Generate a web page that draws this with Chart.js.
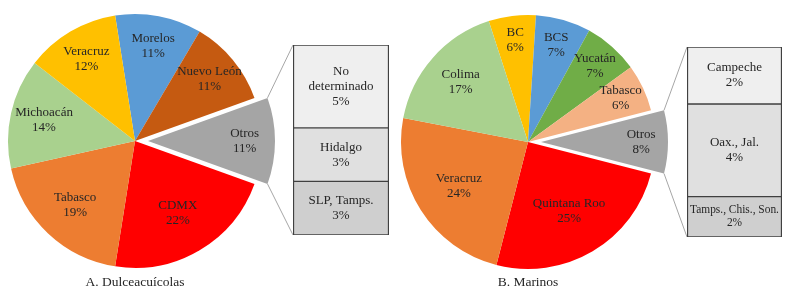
<!DOCTYPE html>
<html lang="es">
<head>
<meta charset="utf-8">
<script src="https://cdn.jsdelivr.net/npm/chart.js@4.4.1/dist/chart.umd.min.js"></script>
<style>
  html, body { margin: 0; padding: 0; background: #fff; }
  #lienzo { position: relative; width: 791px; height: 299px; overflow: hidden; }
  canvas { position: absolute; top: 0; }
</style>
</head>
<body>
<div id="lienzo">
  <canvas id="pieA" width="300" height="299" style="left:-15px"></canvas>
  <canvas id="barraA" width="145" height="299" style="left:255px"></canvas>
  <canvas id="pieB" width="300" height="299" style="left:378px"></canvas>
  <canvas id="barraB" width="141" height="299" style="left:650px"></canvas>
</div>
<script>
// A. Dulceacuícolas
const estadosA = ['Morelos', 'Nuevo León', 'Otros', 'CDMX', 'Tabasco', 'Michoacán', 'Veracruz'];
const valoresA = [11, 11, 11, 22, 19, 14, 12];
const otrosA = [['No', 'determinado'], ['Hidalgo'], ['SLP, Tamps.']];
const valoresOtrosA = [4.8, 3.1, 3.1];

// B. Marinos
const estadosB = ['BC', 'BCS', 'Yucatán', 'Tabasco', 'Otros', 'Quintana Roo', 'Veracruz', 'Colima'];
const valoresB = [6, 7, 7, 6, 8, 25, 24, 17];
const otrosB = [['Campeche'], ['Oax., Jal.'], ['Tamps., Chis., Son.']];
const valoresOtrosB = [2.4, 3.9, 1.7];

const coloresA = ['#5b9bd5', '#c55a11', '#a5a5a5', '#ff0000', '#ed7d31', '#a9d18e', '#ffc000'];
const coloresB = ['#ffc000', '#5b9bd5', '#70ad47', '#f4b183', '#a5a5a5', '#ff0000', '#ed7d31', '#a9d18e'];
const grises = ['#efefef', '#e0e0e0', '#cfcfcf'];

const RADIO = 127;
const SEPARACION = 13;
const FUENTE = '"Liberation Serif", "Times New Roman", serif';
const TEXTO = '#262626';

function suma(arr) {
  return arr.reduce((a, b) => a + b, 0);
}

// separa la porción "Otros" del centro
const separarOtros = {
  id: 'separarOtros',
  afterDatasetUpdate(chart, args) {
    const i = chart.data.labels.indexOf('Otros');
    const arco = args.meta.data[i];
    if (!arco) return;
    const medio = (arco.startAngle + arco.endAngle) / 2;
    arco.x += Math.cos(medio) * SEPARACION;
    arco.y += Math.sin(medio) * SEPARACION;
  }
};

const etiquetasPie = {
  id: 'etiquetasPie',
  afterDatasetsDraw(chart) {
    const ctx = chart.ctx;
    const datos = chart.data.datasets[0].data;
    const total = suma(datos);
    ctx.save();
    ctx.fillStyle = TEXTO;
    ctx.font = '13px ' + FUENTE;
    ctx.textAlign = 'center';
    ctx.textBaseline = 'middle';
    chart.getDatasetMeta(0).data.forEach(function(arco, i) {
      const frac = datos[i] / total;
      const medio = (arco.startAngle + arco.endAngle) / 2;
      // porciones grandes: etiqueta más cerca del centro
      const d = RADIO * (0.86 - 0.9 * frac);
      const x = arco.x + Math.cos(medio) * d;
      const y = arco.y + Math.sin(medio) * d;
      ctx.fillText(chart.data.labels[i], x, y - 7.5);
      ctx.fillText(datos[i] + '%', x, y + 7.5);
    });
    ctx.restore();
  }
};

const etiquetasBarra = {
  id: 'etiquetasBarra',
  afterDatasetsDraw(chart) {
    const ctx = chart.ctx;
    ctx.save();
    ctx.fillStyle = TEXTO;
    ctx.textAlign = 'center';
    ctx.textBaseline = 'middle';
    chart.data.datasets.forEach(function(ds, i) {
      const barra = chart.getDatasetMeta(i).data[0];
      const lineas = ds.lineas.concat([Math.round(ds.data[0]) + '%']);
      const ancho = barra.width - 6;
      let tam = 13;
      lineas.forEach(function(l) {
        ctx.font = tam + 'px ' + FUENTE;
        const w = ctx.measureText(l).width;
        if (w > ancho) tam = tam * ancho / w;
      });
      ctx.font = tam + 'px ' + FUENTE;
      const paso = tam * 1.15;
      const cy = (barra.y + barra.base) / 2;
      lineas.forEach(function(l, k) {
        ctx.fillText(l, barra.x, cy + (k - (lineas.length - 1) / 2) * paso);
      });
    });
    ctx.restore();
  }
};

function conectores(pie) {
  return {
    id: 'conectores',
    beforeDatasetsDraw(chart) {
      const ctx = chart.ctx;
      const i = pie.data.labels.indexOf('Otros');
      const arco = pie.getDatasetMeta(0).data[i];
      const rp = pie.canvas.getBoundingClientRect();
      const rb = chart.canvas.getBoundingClientRect();
      const dx = rp.left - rb.left;
      const dy = rp.top - rb.top;
      const escala = chart.scales.y;
      const primera = chart.getDatasetMeta(0).data[0];
      const izq = primera.x - primera.width / 2;
      const pares = [
        [arco.startAngle, escala.getPixelForValue(escala.min)],
        [arco.endAngle, escala.getPixelForValue(escala.max)]
      ];
      ctx.save();
      ctx.strokeStyle = '#a6a6a6';
      ctx.lineWidth = 1;
      pares.forEach(function(p) {
        ctx.beginPath();
        ctx.moveTo(dx + arco.x + Math.cos(p[0]) * RADIO, dy + arco.y + Math.sin(p[0]) * RADIO);
        ctx.lineTo(izq, p[1]);
        ctx.stroke();
      });
      ctx.restore();
    }
  };
}

function crearPie(id, etiquetas, valores, colores, titulo, arriba) {
  const total = suma(valores);
  const idx = etiquetas.indexOf('Otros');
  const antes = suma(valores.slice(0, idx)) + valores[idx] / 2;
  // "Otros" queda centrado a la derecha (0°)
  const giro = 90 - 360 * antes / total;
  return new Chart(document.getElementById(id), {
    type: 'pie',
    data: {
      labels: etiquetas,
      datasets: [{
        data: valores,
        backgroundColor: colores,
        borderWidth: 0
      }]
    },
    options: {
      responsive: false,
      animation: false,
      devicePixelRatio: 1,
      events: [],
      rotation: giro,
      radius: RADIO,
      layout: { padding: { top: arriba } },
      plugins: {
        legend: { display: false },
        tooltip: { enabled: false },
        title: {
          display: true,
          text: titulo,
          position: 'bottom',
          color: TEXTO,
          font: { family: FUENTE, size: 13.5, weight: 'normal', lineHeight: 1.2 },
          padding: { top: 0, bottom: 8 }
        }
      }
    },
    plugins: [separarOtros, etiquetasPie]
  });
}

function crearBarra(id, etiquetas, valores, pie, relleno) {
  return new Chart(document.getElementById(id), {
    type: 'bar',
    data: {
      labels: ['Otros'],
      datasets: valores.map(function(v, i) {
        return {
          label: etiquetas[i].join(' '),
          lineas: etiquetas[i],
          data: [v],
          backgroundColor: grises[i],
          borderColor: '#404040',
          borderWidth: { top: 1, bottom: 1, left: 1.5, right: 1.5 },
          borderSkipped: false,
          barPercentage: 1,
          categoryPercentage: 1
        };
      })
    },
    options: {
      responsive: false,
      animation: false,
      devicePixelRatio: 1,
      events: [],
      layout: { padding: relleno },
      scales: {
        x: { display: false, stacked: true },
        y: { display: false, stacked: true, min: 0, max: suma(valores), reverse: true }
      },
      plugins: {
        legend: { display: false },
        tooltip: { enabled: false }
      }
    },
    plugins: [conectores(pie), etiquetasBarra]
  });
}

const pieA = crearPie('pieA', estadosA, valoresA, coloresA, 'A. Dulceacuícolas', 7);
crearBarra('barraA', otrosA, valoresOtrosA, pieA, { left: 38, right: 11, top: 45, bottom: 64 });

const pieB = crearPie('pieB', estadosB, valoresB, coloresB, 'B. Marinos', 9);
crearBarra('barraB', otrosB, valoresOtrosB, pieB, { left: 37, right: 9, top: 47, bottom: 62 });
</script>
</body>
</html>
